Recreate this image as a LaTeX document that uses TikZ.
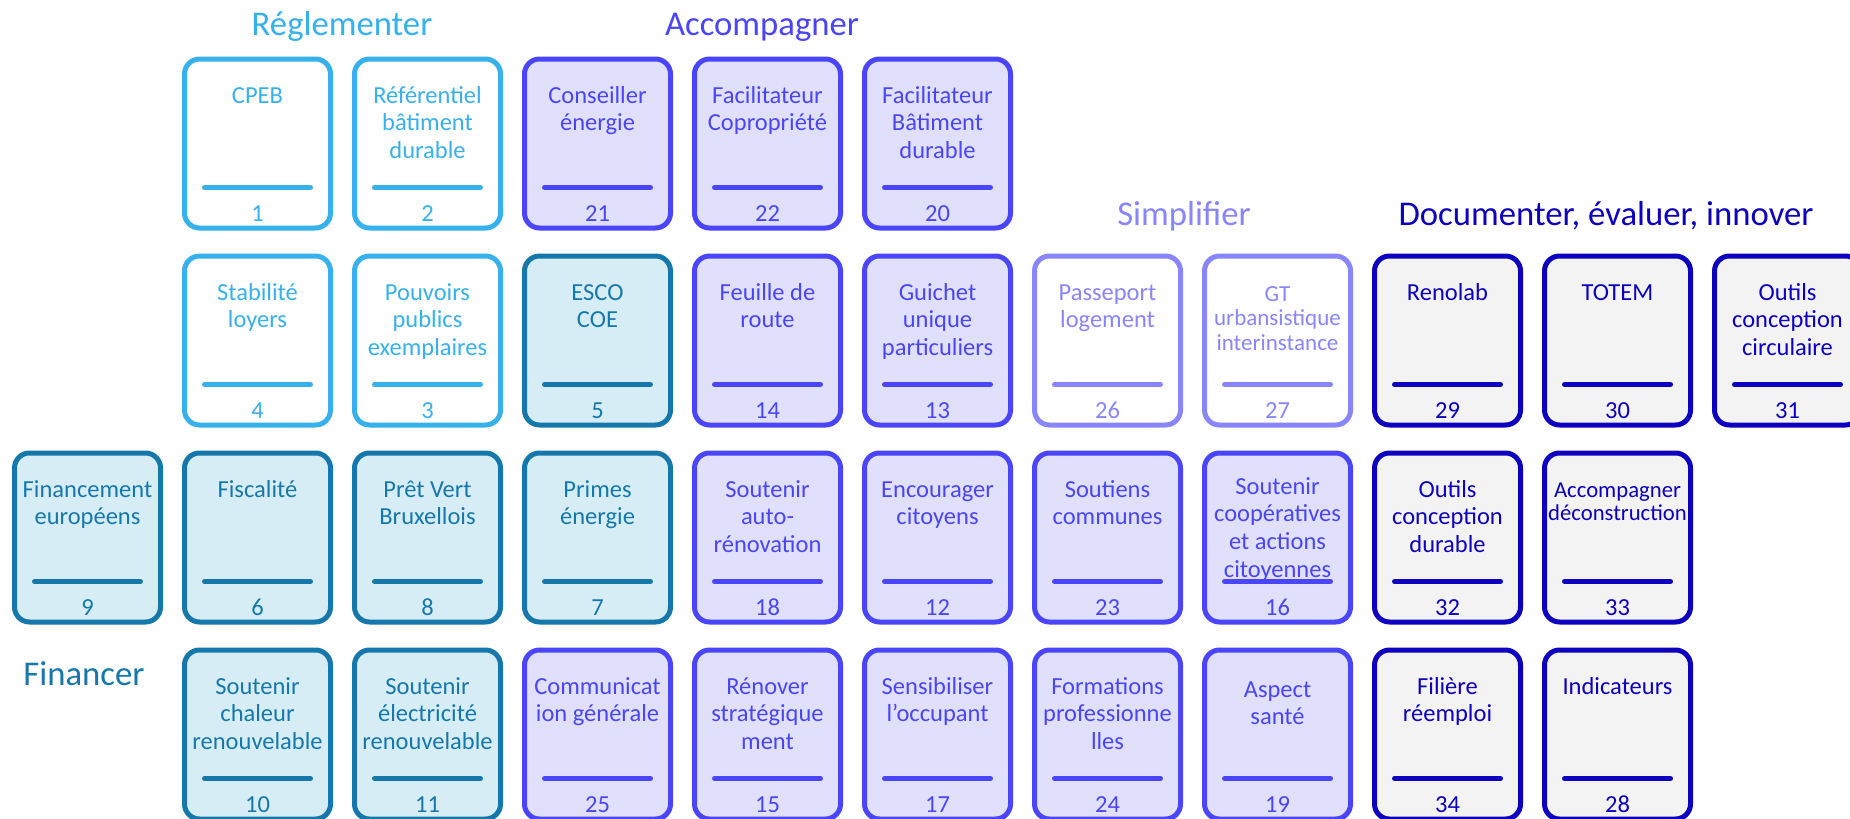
\documentclass[tikz,border=0pt]{standalone}
\usepackage{fontspec}
\setmainfont{Carlito}
\definecolor{cRegl}{HTML}{37B1EC}
\definecolor{fRegl}{HTML}{FFFFFF}
\definecolor{cFin}{HTML}{1678AA}
\definecolor{fFin}{HTML}{D6EDF5}
\definecolor{cAcc}{HTML}{4A45F8}
\definecolor{fAcc}{HTML}{E0E0FC}
\definecolor{cSimp}{HTML}{8985FA}
\definecolor{fSimp}{HTML}{FFFFFF}
\definecolor{cDoc}{HTML}{0D00BE}
\definecolor{fDoc}{HTML}{F3F3F3}
\tikzset{
  card/.style={draw, rounded corners=15pt, line width=5pt, minimum width=146pt, minimum height=169pt, inner sep=0pt},
  lbl/.style={anchor=base, inner sep=0pt, font=\fontsize{24.5}{27.7}\selectfont},
  small/.style={font=\fontsize{23}{24.5}\selectfont, yshift=-1pt},
  smaller/.style={font=\fontsize{22.7}{23}\selectfont},
  rulestyle/.style={line width=5pt, line cap=round},
  title/.style={anchor=base, inner sep=0pt, font=\fontsize{34.7}{40}\selectfont}
}
\newcommand\mycard[7][]{%
  \pgfmathsetmacro\cx{87.5+170*#3}%
  \pgfmathsetmacro\ty{56.5+197*#4}%
  \node[card, draw=c#5, fill=f#5] (#2) at (\cx,{\ty+87}) {};
  \node[lbl, text=c#5, #1] (#2-t) at (\cx,{\ty+46.5}) {\parbox[t]{200pt}{\centering #6}};
  \draw[rulestyle, draw=c#5] ({\cx-53},{\ty+131}) -- ({\cx+53},{\ty+131});
  \node[lbl, text=c#5] (#2-n) at (\cx,{\ty+165}) {#7};
}
\begin{document}
\begin{tikzpicture}[x=1pt,y=-1pt]
\useasboundingbox (0,0) rectangle (1850,819);
\clip (0,0) rectangle (1850,819);
\fill[white] (0,0) rectangle (1850,819);
% titles
\node[title, text=cRegl] (tRegl) at (342,35) {Réglementer};
\node[title, text=cAcc] (tAcc) at (762,35) {Accompagner};
\node[title, text=cSimp] (tSimp) at (1184,225) {Simplifier};
\node[title, text=cDoc] (tDoc) at (1606,225) {Documenter, évaluer, innover};
\node[title, text=cFin] (tFin) at (84,685) {Financer};
% row 0
\mycard{b1}{1}{0}{Regl}{CPEB}{1}
\mycard{b2}{2}{0}{Regl}{Référentiel\\bâtiment\\durable}{2}
\mycard{b21}{3}{0}{Acc}{Conseiller\\énergie}{21}
\mycard{b22}{4}{0}{Acc}{Facilitateur\\Copropriété}{22}
\mycard{b20}{5}{0}{Acc}{Facilitateur\\Bâtiment\\durable}{20}
% row 1
\mycard{b4}{1}{1}{Regl}{Stabilité\\loyers}{4}
\mycard{b3}{2}{1}{Regl}{Pouvoirs\\publics\\exemplaires}{3}
\mycard{b5}{3}{1}{Fin}{ESCO\\COE}{5}
\mycard{b14}{4}{1}{Acc}{Feuille de\\route}{14}
\mycard{b13}{5}{1}{Acc}{Guichet\\unique\\particuliers}{13}
\mycard{b26}{6}{1}{Simp}{Passeport\\logement}{26}
\mycard[small]{b27}{7}{1}{Simp}{GT\\urbansistique\\interinstance}{27}
\mycard{b29}{8}{1}{Doc}{Renolab}{29}
\mycard{b30}{9}{1}{Doc}{TOTEM}{30}
\mycard{b31}{10}{1}{Doc}{Outils\\conception\\circulaire}{31}
% row 2
\mycard{b9}{0}{2}{Fin}{Financement\\européens}{9}
\mycard{b6}{1}{2}{Fin}{Fiscalité}{6}
\mycard{b8}{2}{2}{Fin}{Prêt Vert\\Bruxellois}{8}
\mycard{b7}{3}{2}{Fin}{Primes\\énergie}{7}
\mycard{b18}{4}{2}{Acc}{Soutenir\\auto-\\rénovation}{18}
\mycard{b12}{5}{2}{Acc}{Encourager\\citoyens}{12}
\mycard{b23}{6}{2}{Acc}{Soutiens\\communes}{23}
\mycard[yshift=3pt]{b16}{7}{2}{Acc}{Soutenir\\coopératives\\et actions\\citoyennes}{16}
\mycard{b32}{8}{2}{Doc}{Outils\\conception\\durable}{32}
\mycard[smaller]{b33}{9}{2}{Doc}{Accompagner\\déconstruction}{33}
% row 3
\mycard{b10}{1}{3}{Fin}{Soutenir\\chaleur\\renouvelable}{10}
\mycard{b11}{2}{3}{Fin}{Soutenir\\électricité\\renouvelable}{11}
\mycard{b25}{3}{3}{Acc}{Communicat\\ion générale}{25}
\mycard{b15}{4}{3}{Acc}{Rénover\\stratégique\\ment}{15}
\mycard{b17}{5}{3}{Acc}{Sensibiliser\\l’occupant}{17}
\mycard{b24}{6}{3}{Acc}{Formations\\professionne\\lles}{24}
\mycard[yshift=-3pt]{b19}{7}{3}{Acc}{Aspect\\santé}{19}
\mycard{b34}{8}{3}{Doc}{Filière\\réemploi}{34}
\mycard{b28}{9}{3}{Doc}{Indicateurs}{28}
\end{tikzpicture}
\end{document}
